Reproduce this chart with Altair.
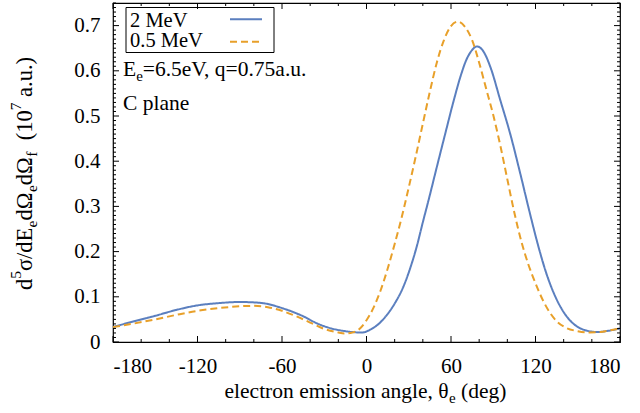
import altair as alt
import pandas as pd

# ---------------- data ----------------
angle_2mev = [-180, -165, -150, -135, -120, -105, -90, -75, -60, -45, -35, -25, -15, -8, -3,
              3, 9, 14, 20, 26, 31, 36, 40, 44, 50, 56, 62, 67, 71, 75, 78.5, 83, 88, 95,
              102, 109, 116, 122, 128, 134, 140, 146, 152, 158, 164, 172, 180]
sigma_2mev = [0.033, 0.046, 0.058, 0.071, 0.081, 0.086, 0.0885, 0.0865, 0.075, 0.057, 0.041,
              0.030, 0.024, 0.0215, 0.021, 0.028, 0.041, 0.058, 0.085, 0.121, 0.163, 0.215,
              0.265, 0.313, 0.388, 0.462, 0.535, 0.590, 0.625, 0.646, 0.654, 0.643, 0.608,
              0.535, 0.461, 0.375, 0.285, 0.212, 0.149, 0.101, 0.066, 0.043, 0.030, 0.024,
              0.022, 0.025, 0.030]

angle_05mev = [-180, -165, -150, -135, -120, -105, -90, -80, -70, -60, -50, -40, -30, -20, -15,
               -10, -5, 0, 5, 10, 15, 20, 25, 30, 35, 40, 45, 50, 55, 60, 65, 70, 75, 80, 85,
               90, 95, 100, 105, 110, 115, 120, 125, 130, 135, 142, 150, 158, 166, 173, 180]
sigma_05mev = [0.033, 0.041, 0.050, 0.060, 0.069, 0.075, 0.079, 0.080, 0.077, 0.069, 0.057,
               0.043, 0.029, 0.021, 0.019, 0.021, 0.029, 0.048, 0.076, 0.114, 0.162, 0.217,
               0.276, 0.342, 0.411, 0.483, 0.554, 0.619, 0.668, 0.699, 0.709, 0.697, 0.668,
               0.618, 0.560, 0.502, 0.435, 0.360, 0.286, 0.222, 0.171, 0.130, 0.094, 0.066,
               0.046, 0.031, 0.024, 0.021, 0.022, 0.026, 0.030]

series_names = ["2 MeV", "0.5 MeV"]
series_colors = ["#5b7fbf", "#e8a02a"]
series_dash = [[1, 0], [7, 4]]

x_major = [-180, -120, -60, 0, 60, 120, 180]
x_minor = [-160, -140, -100, -80, -40, -20, 20, 40, 80, 100, 140, 160]
y_major = [0, 0.1, 0.2, 0.3, 0.4, 0.5, 0.6, 0.7]
y_minor = [round(i * 0.01, 2) for i in range(0, 76) if i % 10 != 0]

# ---------------- layout ----------------
W, H = 507, 339
FONT = "Liberation Serif"

df = pd.concat([
    pd.DataFrame({"angle": angle_2mev, "sigma": sigma_2mev, "series": series_names[0]}),
    pd.DataFrame({"angle": angle_05mev, "sigma": sigma_05mev, "series": series_names[1]}),
])

xs = alt.Scale(domain=[-180, 180], nice=False, zero=False)
ys = alt.Scale(domain=[0, 0.75], nice=False)
x_axis = alt.Axis(values=x_major, labelExpr="'' + datum.value", title=None, grid=False,
                  ticks=False, tickSize=0, domain=False, labelFont=FONT, labelFontSize=21,
                  labelColor="black", labelPadding=13)
y_axis = alt.Axis(values=y_major, labelExpr="'' + datum.value", title=None, grid=False,
                  ticks=False, tickSize=0, domain=False, labelFont=FONT, labelFontSize=21,
                  labelColor="black", labelPadding=13)

lines = alt.Chart(df).mark_line(strokeWidth=2, interpolate="monotone").encode(
    x=alt.X("angle:Q", scale=xs, axis=x_axis),
    y=alt.Y("sigma:Q", scale=ys, axis=y_axis),
    color=alt.Color("series:N", scale=alt.Scale(domain=series_names, range=series_colors), legend=None),
    strokeDash=alt.StrokeDash("series:N", scale=alt.Scale(domain=series_names, range=series_dash), legend=None),
)

layers = [lines]

def xticks(vals, ln):
    d = pd.DataFrame({"t": vals})
    out = []
    for y1, y2 in [(H, H - ln), (0, ln)]:
        out.append(alt.Chart(d).mark_rule(color="black", strokeWidth=1).encode(
            x=alt.X("t:Q", scale=xs, axis=x_axis), y=alt.value(y1), y2=alt.value(y2)))
    return out

def yticks(vals, ln):
    d = pd.DataFrame({"t": vals})
    out = []
    for x1, x2 in [(0, ln), (W, W - ln)]:
        out.append(alt.Chart(d).mark_rule(color="black", strokeWidth=1).encode(
            y=alt.Y("t:Q", scale=ys, axis=y_axis), x=alt.value(x1), x2=alt.value(x2)))
    return out

layers += xticks(x_major, 6) + xticks(x_minor, 3) + yticks(y_major, 6) + yticks(y_minor, 3)

# ---------------- rich text helpers ----------------
WID = {' ': 250, '(': 333, ')': 333, ',': 250, '-': 333, '.': 250, '/': 278,
       '=': 564, 'C': 667, 'E': 611, 'M': 889, 'V': 722, 'a': 444, 'c': 444, 'd': 500,
       'e': 444, 'f': 333, 'g': 500, 'i': 278, 'l': 278, 'm': 778, 'n': 500, 'o': 500,
       'p': 500, 'q': 500, 'r': 333, 's': 389, 't': 278, 'u': 500, 'v': 500, 'σ': 550,
       'Ω': 768, 'θ': 500}

def tw(s, size):
    return sum(WID.get(ch, 500) for ch in s) / 1000.0 * size

one = pd.DataFrame({"a": [0]})

def rich(pieces, x0, y0, angle=0, center=False, main=21.5, small=15, sup=-11, sub=5):
    sizes = [main if k == "n" else small for _, k in pieces]
    total = sum(tw(t, s) for (t, _), s in zip(pieces, sizes))
    pos = -total / 2 if center else 0
    out = []
    for (txt, kind), size in zip(pieces, sizes):
        shift = 0 if kind == "n" else (sup if kind == "sup" else sub)
        lead = len(txt) - len(txt.lstrip(" "))
        pos += tw(" " * lead, size)          # leading blanks are trimmed by the renderer
        body = txt.lstrip(" ")
        if angle == 0:
            x, y = x0 + pos, y0 + shift
        else:
            x, y = x0 + shift, y0 - pos
        kw = dict(text=body, font=FONT, fontSize=size, align="left", baseline="alphabetic",
                  color="black")
        if angle:
            kw["angle"] = angle
        out.append(alt.Chart(one).mark_text(**kw).encode(x=alt.value(x), y=alt.value(y)))
        pos += tw(body, size)
    return out

# x-axis title
layers += rich([("electron emission angle, θ", "n"), ("e", "sub"), (" (deg)", "n")],
               252.5, 395, center=True)
# y-axis title
layers += rich([("d", "n"), ("5", "sup"), ("σ/dE", "n"), ("e", "sub"), ("dΩ", "n"),
                ("e", "sub"), ("dΩ", "n"), ("f", "sub"), ("  (10", "n"), ("7", "sup"),
                (" a.u.)", "n")], -81.5, 170.5, angle=270, center=True, main=22.5, small=15.5)

# annotations
layers += rich([("E", "n"), ("e", "sub"), ("=6.5eV, q=0.75a.u.", "n")], 10, 73)
layers += rich([("C plane", "n")], 10, 107)

# legend (box, labels, line samples)
layers.append(alt.Chart(one).mark_rect(filled=False, stroke="black", strokeWidth=1).encode(
    x=alt.value(13), x2=alt.value(161), y=alt.value(4.5), y2=alt.value(49.5)))
layers += rich([(series_names[0], "n")], 17, 23.5, main=20.5)
layers += rich([(series_names[1], "n")], 17, 44, main=20.5)
for i, yy in enumerate([16.3, 38.7]):
    layers.append(alt.Chart(one).mark_rule(color=series_colors[i], strokeWidth=2,
                                           strokeDash=series_dash[i]).encode(
        x=alt.value(117), x2=alt.value(149), y=alt.value(yy)))

chart = alt.layer(*layers).properties(
    width=W, height=H,
    autosize=alt.AutoSizeParams(type="none"),
    padding={"left": 113, "top": 3, "right": 20, "bottom": 71},
    background="white",
).configure_view(stroke="black", strokeWidth=1.2)

chart.save("out.html", embed_options={"renderer": "svg", "actions": False})
